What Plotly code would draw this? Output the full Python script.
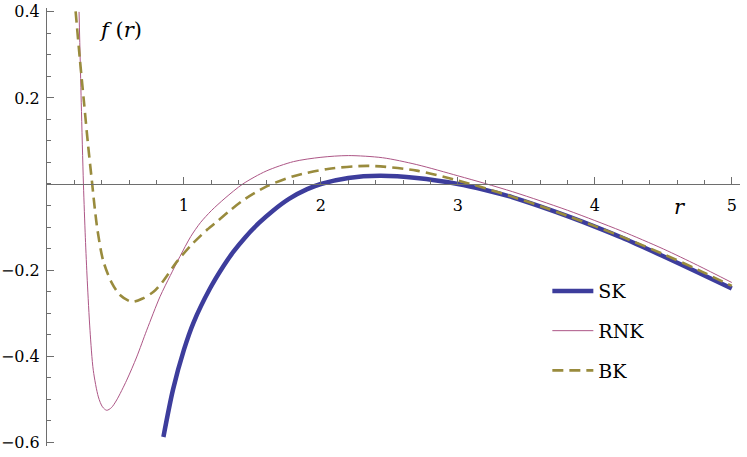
import plotly.graph_objects as go

# SK (thick blue)
sk_r = [0.85, 0.92, 1.0, 1.07, 1.19, 1.29, 1.36, 1.45, 1.55, 1.65, 1.77, 1.9, 2.0, 2.2,
        2.43, 2.7, 3.0, 3.2, 3.4, 3.6, 3.82, 4.0, 4.2, 4.5, 4.75, 5.0]
sk_f = [-0.588, -0.478, -0.385, -0.322, -0.243, -0.19, -0.158, -0.123, -0.09, -0.062,
        -0.034, -0.012, 0.0, 0.014, 0.019, 0.014, 0.0, -0.014, -0.031, -0.052, -0.077,
        -0.099, -0.125, -0.168, -0.205, -0.243]

# RNK (thin pink)
rnk_r = [0.234, 0.25, 0.266, 0.28, 0.294, 0.314, 0.338, 0.375, 0.405, 0.436, 0.47, 0.509,
         0.582, 0.655, 0.728, 0.825, 0.9, 0.97, 1.05, 1.12, 1.2, 1.3, 1.43, 1.6, 1.8, 2.0,
         2.2, 2.45, 2.7, 3.0, 3.2, 3.4, 3.6, 3.8, 4.0, 4.2, 4.5, 4.75, 5.0]
rnk_f = [0.40, 0.19, 0.0, -0.125, -0.225, -0.34, -0.433, -0.495, -0.518, -0.526, -0.52,
         -0.502, -0.456, -0.402, -0.34, -0.262, -0.213, -0.169, -0.122, -0.09, -0.062,
         -0.033, 0.0, 0.03, 0.052, 0.062, 0.066, 0.061, 0.045, 0.019, 0.001, -0.018,
         -0.039, -0.061, -0.085, -0.11, -0.151, -0.189, -0.229]

# BK (dashed olive)
bk_r = [0.209, 0.24, 0.27, 0.30, 0.33, 0.35, 0.37, 0.41, 0.47, 0.533, 0.62, 0.7, 0.78,
        0.84, 0.95, 1.05, 1.17, 1.25, 1.35, 1.45, 1.6, 1.8, 2.05, 2.35, 2.7, 3.0, 3.2,
        3.4, 3.6, 3.8, 4.0, 4.2, 4.5, 4.75, 5.0]
bk_f = [0.401, 0.29, 0.19, 0.09, 0.0, -0.06, -0.11, -0.178, -0.228, -0.258, -0.274,
        -0.266, -0.25, -0.229, -0.18, -0.143, -0.106, -0.085, -0.058, -0.034, -0.006,
        0.018, 0.035, 0.042, 0.031, 0.008, -0.01, -0.03, -0.051, -0.074, -0.098, -0.123,
        -0.163, -0.199, -0.237]

x_ticks = [1, 2, 3, 4, 5]
y_ticks = [-0.6, -0.4, -0.2, 0.2, 0.4]
y_labels = ["\u22120.6", "\u22120.4", "\u22120.2", "0.2", "0.4"]

x_range = [0, 5.06]
y_range = [-0.609, 0.409]
serif = "DejaVu Serif"   # the only serif face the renderer actually picks up
axis_gray = "#6e6e6e"

fig = go.Figure()
fig.add_trace(go.Scatter(x=sk_r, y=sk_f, name="SK", mode="lines", legendgroup="a",
                         line=dict(color="#3d3d9c", width=4.5, shape="spline", smoothing=0.8)))
fig.add_trace(go.Scatter(x=rnk_r, y=rnk_f, name="RNK", mode="lines", legendgroup="b",
                         line=dict(color="#ad5686", width=1, shape="spline", smoothing=0.8)))
fig.add_trace(go.Scatter(x=bk_r, y=bk_f, name="BK", mode="lines", legendgroup="c",
                         line=dict(color="#998b3d", width=2.6, dash="11px,6px",
                                   shape="spline", smoothing=0.8)))

fig.update_layout(
    width=747, height=457,
    margin=dict(l=47, r=7, t=8, b=11),
    plot_bgcolor="white", paper_bgcolor="white",
    font=dict(family=serif, size=16, color="black"),
    legend=dict(x=0.722, y=0.397, xanchor="left", yanchor="top",
                font=dict(family=serif, size=19), tracegroupgap=12,
                itemwidth=41, bgcolor="rgba(0,0,0,0)"),
    annotations=[
        dict(x=0.533, y=0.358, xref="x", yref="y", text="<i>f</i> (<i>r</i>)",
             showarrow=False, font=dict(family=serif, size=21)),
        dict(x=4.62, y=-0.053, xref="x", yref="y", text="<i>r</i>",
             showarrow=False, font=dict(family=serif, size=21)),
    ],
)

fig.update_xaxes(
    range=x_range, anchor="free", automargin=False,
    position=(0 - y_range[0]) / (y_range[1] - y_range[0]),
    showgrid=False, zeroline=False, showline=True, linecolor=axis_gray, linewidth=1,
    tickvals=x_ticks, ticks="inside", ticklen=7, tickcolor=axis_gray,
    ticklabelstandoff=7,
    minor=dict(dtick=0.2, ticks="inside", ticklen=4, tickcolor=axis_gray),
)
fig.update_yaxes(
    range=y_range, automargin=False,
    showgrid=False, zeroline=False, showline=True, linecolor=axis_gray, linewidth=1,
    tickvals=y_ticks, ticktext=y_labels, ticks="inside", ticklen=7, tickcolor=axis_gray,
    ticklabelstandoff=3,
    minor=dict(dtick=0.05, ticks="inside", ticklen=4, tickcolor=axis_gray),
)

# drop the default page margin so the figure sits at the window's corner
fig.write_html("out.html", config={"displayModeBar": False},
               post_script="document.body.style.margin = '0';")
